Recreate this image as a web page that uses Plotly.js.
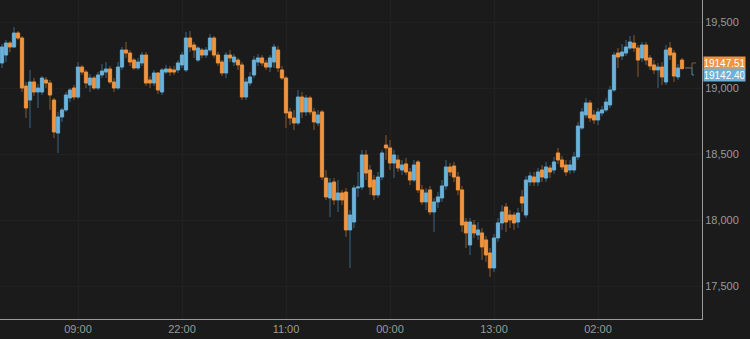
<!DOCTYPE html>
<html>
<head>
<meta charset="utf-8">
<script src="https://cdn.plot.ly/plotly-3.0.1.min.js"></script>
<style>
  html, body { margin: 0; padding: 0; background: #1b1b1b; }
  #chart { width: 750px; height: 339px; }
</style>
</head>
<body>
<div id="chart"></div>
<script>
// 30-minute candles, first candle at 23:30 on day 0
const startTime = '2024-01-01T23:30:00Z';
const stepMinutes = 30;

const openP = [19190,19250,19341,19311,19417,19379,19015,18909,19046,18970,
18970,19061,19038,18909,18659,18781,18834,18925,19000,18932,
19159,19121,19023,19076,19000,19099,19121,19144,19046,19000,
19159,19288,19265,19212,19152,19190,19250,19061,19038,19114,
18970,19121,19144,19137,19137,19175,19137,19379,19326,19212,
19288,19250,19288,19379,19250,19197,19114,19250,19197,19212,
19175,18932,19038,19099,19197,19228,19190,19159,19197,19288,
19137,19076,18819,18773,18735,18932,18819,18925,18819,18735,
18819,18318,18167,18288,18152,18205,18212,17925,17985,18243,
18250,18493,18379,18303,18190,18326,18568,18546,18432,18455,
18379,18425,18364,18303,18440,18228,18137,18228,18061,18137,
18167,18258,18402,18409,18326,18228,17985,17811,17962,17887,
17902,17849,17750,17637,17864,17978,18099,18038,18038,17985,
18175,18038,18288,18326,18288,18379,18318,18394,18379,18508,
18455,18417,18379,18379,18478,18697,18796,18887,18796,18758,
18811,18834,18872,18985,19265,19243,19265,19303,19341,19303,
19228,19326,19228,19175,19137,19159,19046,19303,19265,19084,
19212];

const highP = [19334,19364,19356,19462,19432,19394,19046,19137,19076,19031,
19091,19084,19061,18925,18819,18849,18970,19000,19023,19197,
19175,19137,19106,19091,19121,19182,19197,19167,19076,19197,
19311,19349,19288,19228,19228,19273,19273,19091,19137,19121,
19152,19175,19167,19167,19212,19273,19425,19432,19349,19318,
19303,19311,19409,19394,19273,19212,19273,19288,19258,19228,
19197,19076,19121,19243,19258,19250,19212,19250,19334,19318,
19167,19091,18849,18834,18985,18970,18947,18940,18849,18834,
18834,18379,18318,18318,18303,18228,18243,18076,18265,18364,
18531,18531,18417,18341,18364,18531,18644,18606,18531,18493,
18455,18470,18394,18455,18455,18265,18243,18258,18167,18212,
18303,18455,18432,18440,18364,18258,18015,18015,18000,17985,
17940,17879,17788,17894,18015,18114,18129,18076,18061,18091,
18228,18334,18364,18364,18394,18417,18440,18417,18478,18546,
18485,18455,18455,18515,18743,18849,18925,18909,18834,18849,
18864,18925,19015,19273,19303,19334,19364,19394,19402,19326,
19349,19349,19250,19212,19190,19197,19326,19349,19288,19182,
19228];

const lowP = [19152,19197,19273,19303,19364,18970,18773,18697,18940,18849,
18947,19000,18834,18621,18508,18743,18819,18894,18909,18917,
19099,19000,18970,18985,18985,19076,19076,19031,18970,18985,
19137,19228,19167,19137,19137,19167,19015,19000,19015,18955,
18947,19106,19091,19099,19114,19152,19121,19273,19228,19197,
19228,19228,19273,19228,19167,19091,19076,19197,19167,19137,
18909,18909,19015,19076,19167,19167,19137,19121,19152,19121,
19061,18697,18720,18682,18720,18773,18788,18796,18682,18712,
18303,18152,18023,18114,18061,18114,17872,17637,17940,18175,
18228,18303,18190,18152,18167,18303,18455,18379,18318,18364,
18341,18341,18265,18288,18205,18114,18076,18038,17909,18091,
18137,18228,18334,18288,18190,17909,17788,17735,17864,17849,
17697,17682,17568,17606,17834,17925,17909,17940,17925,17940,
18061,18015,18258,18258,18258,18288,18288,18318,18349,18425,
18379,18334,18349,18356,18455,18682,18773,18743,18728,18720,
18788,18819,18849,18970,19152,19212,19243,19288,19273,19084,
19197,19175,19137,19106,19000,19023,19023,19212,19046,19061,
19137];

const closeP = [19311,19341,19311,19417,19379,19000,18849,19046,18970,19000,
19076,19038,18947,18667,18781,18834,18947,18985,18932,19159,
19121,19038,19076,19000,19099,19129,19144,19046,19000,19159,
19288,19265,19197,19152,19197,19250,19038,19038,19114,18985,
19137,19144,19121,19121,19190,19250,19379,19311,19288,19303,
19250,19288,19379,19250,19190,19114,19250,19228,19235,19175,
18932,19046,19084,19212,19228,19190,19159,19228,19311,19152,
19076,18811,18773,18735,18932,18819,18925,18819,18743,18796,
18326,18175,18281,18152,18205,18152,17925,18038,18243,18250,
18493,18356,18250,18190,18326,18508,18546,18432,18493,18394,
18417,18364,18303,18417,18228,18137,18205,18061,18137,18175,
18258,18402,18364,18326,18228,17962,17902,17985,17902,17925,
17796,17735,17637,17864,17978,18061,17985,18000,17978,18053,
18129,18303,18334,18288,18364,18326,18402,18364,18440,18455,
18402,18364,18417,18478,18712,18819,18887,18773,18758,18819,
18834,18894,18985,19250,19235,19273,19311,19349,19303,19212,
19326,19212,19167,19137,19159,19084,19288,19250,19091,19152,
19147.51];

const lastBid = 19147.51;
const lastOffer = 19142.40;

const yTickVals = [17500, 18000, 18500, 19000, 19500];
const xTickVals = ['2024-01-02 09:00', '2024-01-02 22:00', '2024-01-03 11:00',
                   '2024-01-04 00:00', '2024-01-04 13:00', '2024-01-05 02:00'];
const xRange = ['2024-01-01 23:15', '2024-01-05 15:00'];
const yRange = [17250, 19667];

// build times
const t0 = Date.parse(startTime);
const times = closeP.map((_, i) => {
  const d = new Date(t0 + i * stepMinutes * 60000);
  return d.toISOString().slice(0, 19).replace('T', ' ');
});
const bodyHigh = openP.map((o, i) => Math.max(o, closeP[i]));
const bodyLow = openP.map((o, i) => Math.min(o, closeP[i]));

const UP = '#6cb2d9', DOWN = '#ef9440';
const UPW = '#3d6984', DOWNW = '#8c5a2b';

const wicks = {
  type: 'candlestick', x: times, open: openP, high: highP, low: lowP, close: closeP,
  increasing: { line: { color: UPW, width: 1 }, fillcolor: UPW },
  decreasing: { line: { color: DOWNW, width: 1 }, fillcolor: DOWNW },
  whiskerwidth: 0, hoverinfo: 'skip', showlegend: false
};
const bodies = {
  type: 'candlestick', x: times, open: openP, high: bodyHigh, low: bodyLow, close: closeP,
  increasing: { line: { color: UP, width: 0.7 }, fillcolor: UP },
  decreasing: { line: { color: DOWN, width: 0.7 }, fillcolor: DOWN },
  whiskerwidth: 0, hoverinfo: 'skip', showlegend: false
};

const font = { family: 'Liberation Sans, Arial, Helvetica, sans-serif', size: 11, color: '#9a9a9a' };

const layout = {
  width: 750, height: 339,
  margin: { l: 0, r: 48, t: 0, b: 20, pad: 0 },
  paper_bgcolor: '#1b1b1b', plot_bgcolor: '#1b1b1b',
  font: font,
  showlegend: false,
  boxmode: 'overlay', boxgap: 0.1, boxgroupgap: 0.1,
  xaxis: {
    type: 'date', range: xRange, tickvals: xTickVals, tickformat: '%H:%M',
    showgrid: true, gridcolor: '#212121', gridwidth: 1,
    showline: true, linecolor: '#9c9c9c', linewidth: 1,
    ticks: '', tickfont: font, rangeslider: { visible: false },
    zeroline: false, fixedrange: true
  },
  yaxis: {
    side: 'right', range: yRange, tickvals: yTickVals, tickformat: ',d',
    showgrid: true, gridcolor: '#212121', gridwidth: 1,
    showline: true, linecolor: '#9c9c9c', linewidth: 1,
    ticks: '', tickfont: font, zeroline: false, fixedrange: true
  },
  shapes: [
    { type: 'line', xref: 'paper', yref: 'paper', x0: 0.976, x1: 0.9858, y0: 0.787, y1: 0.787,
      line: { color: '#777', width: 1, dash: 'dash' } },
    { type: 'path', xref: 'paper', yref: 'paper', path: 'M 0.9858 0.787 L 0.9858 0.8025 L 1 0.8025',
      line: { color: DOWNW, width: 1, dash: 'dash' } },
    { type: 'path', xref: 'paper', yref: 'paper', path: 'M 0.9858 0.787 L 0.9858 0.765 L 1 0.765',
      line: { color: '#5b8aa6', width: 1, dash: 'dash' } }
  ],
  annotations: [
    { xref: 'paper', yref: 'y', x: 1, y: lastBid, xanchor: 'left', yanchor: 'middle', xshift: 1, yshift: 5.5,
      text: lastBid.toFixed(2), showarrow: false, bgcolor: DOWN, width: 40, height: 11, borderpad: 0.5,
      font: { family: 'Liberation Sans, Arial, sans-serif', size: 10, color: '#ffffff' } },
    { xref: 'paper', yref: 'y', x: 1, y: lastOffer, xanchor: 'left', yanchor: 'middle', xshift: 1, yshift: -5.5,
      text: lastOffer.toFixed(2), showarrow: false, bgcolor: UP, width: 40, height: 11, borderpad: 0.5,
      font: { family: 'Liberation Sans, Arial, sans-serif', size: 10, color: '#ffffff' } }
  ]
};

Plotly.newPlot('chart', [wicks, bodies], layout, { staticPlot: true, displayModeBar: false });
</script>
</body>
</html>
